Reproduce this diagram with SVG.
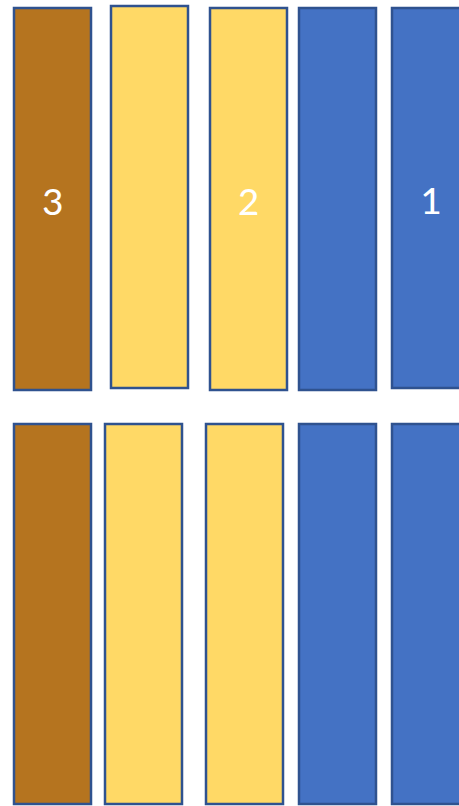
<svg xmlns="http://www.w3.org/2000/svg" width="459" height="806" viewBox="0 0 459 806">
<style>
rect{stroke:#2F528F;stroke-width:2.5}
.br{fill:#B5741F}.ye{fill:#FFD966}.bl{fill:#4472C4}
text{font-family:Calibri,"Carlito","Liberation Sans",sans-serif;font-size:42px;fill:#fff;text-anchor:middle}
</style>
<g id="top-brown"><rect class="br" x="14" y="8" width="77" height="382"/><text x="52.5" y="215">3</text></g>
<g id="top-yellow1"><rect class="ye" x="111" y="6" width="77" height="382"/></g>
<g id="top-yellow2"><rect class="ye" x="210" y="8" width="77" height="382"/><text x="248.5" y="215">2</text></g>
<g id="top-blue1"><rect class="bl" x="299" y="8" width="77" height="382"/></g>
<g id="top-blue2"><rect class="bl" x="392" y="8" width="77" height="380"/><text x="430.5" y="214">1</text></g>
<g id="bot-brown"><rect class="br" x="14" y="424" width="77" height="380"/></g>
<g id="bot-yellow1"><rect class="ye" x="105" y="424" width="77" height="380"/></g>
<g id="bot-yellow2"><rect class="ye" x="206" y="424" width="77" height="380"/></g>
<g id="bot-blue1"><rect class="bl" x="299" y="424" width="77" height="380"/></g>
<g id="bot-blue2"><rect class="bl" x="392" y="424" width="77" height="380"/></g>
<g id="connectors"/>
</svg>
